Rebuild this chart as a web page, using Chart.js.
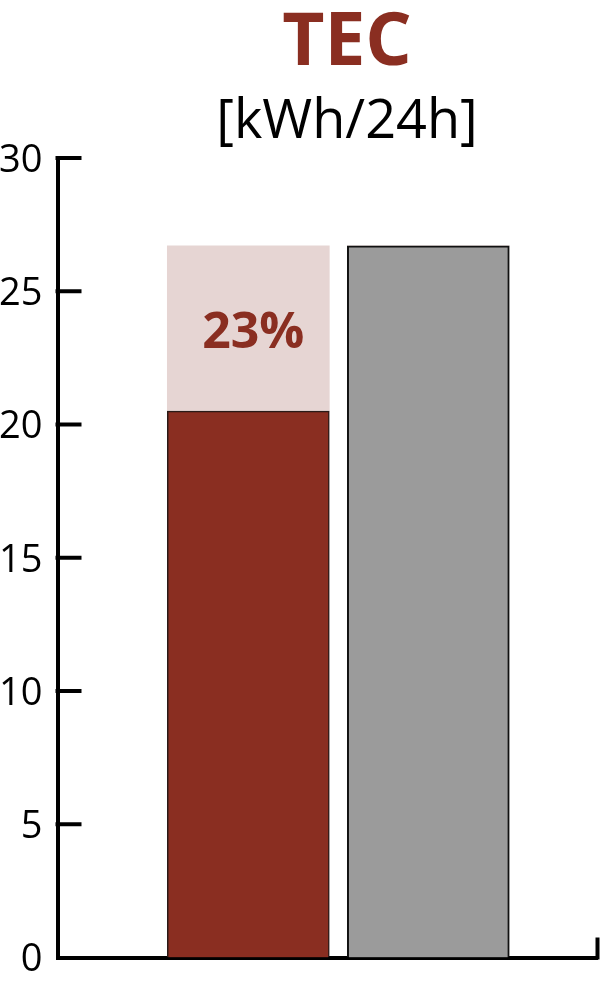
<!DOCTYPE html>
<html>
<head>
<meta charset="utf-8">
<style>
  html, body { margin: 0; padding: 0; background: #fff; }
  #wrap { width: 600px; height: 986px; position: relative; }
</style>
<script src="https://cdn.jsdelivr.net/npm/chart.js@4.4.1/dist/chart.umd.min.js"></script>
</head>
<body>
<div id="wrap"><canvas id="c"></canvas></div>
<script>
// data
const categories = ["New", "Reference"];
const tecValues = [20.5, 26.7];
const savingValues = [6.2, 0];
const savingLabel = "23%";
const yTicks = [0, 5, 10, 15, 20, 25, 30];
const titleText = "TEC";
const unitText = "[kWh/24h]";

const cred = "#8A2E21";
const cpink = "#E6D5D3";
const cgray = "#9B9B9B";
const cblack = "#000000";
const font = "'Open Sans', 'Noto Sans', sans-serif";

// inner ticks, right end tick, titles and the saving label
const decorations = {
  id: "decorations",
  afterDraw(chart) {
    const ctx = chart.ctx;
    const area = chart.chartArea;
    const y = chart.scales.y;
    ctx.save();
    ctx.strokeStyle = cblack;
    ctx.lineWidth = 4;
    yTicks.forEach(v => {
      if (v === 0) return;
      const py = y.getPixelForValue(v);
      ctx.beginPath();
      ctx.moveTo(area.left - 2, py);
      ctx.lineTo(area.left + 24, py);
      ctx.stroke();
    });
    ctx.beginPath();
    ctx.moveTo(area.right, area.bottom + 2);
    ctx.lineTo(area.right, area.bottom - 20);
    ctx.stroke();

    // titles
    const cx = 347;
    ctx.textAlign = "center";
    ctx.textBaseline = "alphabetic";
    ctx.fillStyle = cred;
    ctx.font = "bold 73px " + font;
    ctx.fillText(titleText, cx, 65);
    ctx.fillStyle = cblack;
    ctx.font = "54px " + font;
    ctx.fillText(unitText, cx, 138);

    // saving label inside the pink part
    const bar = chart.getDatasetMeta(1).data[0];
    const mid = (bar.y + bar.base) / 2;
    ctx.fillStyle = cred;
    ctx.font = "bold 50px " + font;
    ctx.fillText(savingLabel, bar.x + 5, mid + 19);
    ctx.restore();
  }
};

new Chart(document.getElementById("c"), {
  type: "bar",
  data: {
    datasets: [{
      label: "TEC",
      data: categories.map((c, i) => ({ x: i + 1, y: tecValues[i] })),
      backgroundColor: [cred, cgray],
      borderColor: ["#2a1a17", "#111111"],
      borderWidth: [1.5, 2],
      borderSkipped: "bottom",
      barThickness: 162
    }, {
      label: "Saving",
      data: categories.map((c, i) => ({ x: i + 1, y: savingValues[i] })),
      backgroundColor: cpink,
      borderWidth: 0,
      barThickness: 162
    }]
  },
  options: {
    responsive: true,
    maintainAspectRatio: false,
    animation: false,
    layout: { padding: { top: 158, bottom: 28.5, right: 2.5, left: 0 } },
    plugins: {
      legend: { display: false },
      tooltip: { enabled: false }
    },
    scales: {
      x: {
        type: "linear",
        stacked: true,
        offset: false,
        min: -0.06,
        max: 2.94,
        ticks: { display: false },
        grid: { display: false, drawTicks: false, offset: false },
        border: { display: true, width: 4, color: cblack },
        afterFit(scale) {
          scale.height = 0;
          scale.paddingLeft = scale.paddingRight = 0;
        }
      },
      y: {
        stacked: true,
        min: 0,
        max: 30,
        ticks: {
          stepSize: 5,
          padding: 15,
          labelOffset: 3,
          color: cblack,
          font: { family: font, size: 38 }
        },
        grid: { display: false, drawTicks: false },
        border: { display: true, width: 4, color: cblack },
        afterFit(scale) {
          scale.width = 57.5;
          scale.paddingTop = scale.paddingBottom = 0;
        }
      }
    }
  },
  plugins: [decorations]
});
</script>
</body>
</html>
